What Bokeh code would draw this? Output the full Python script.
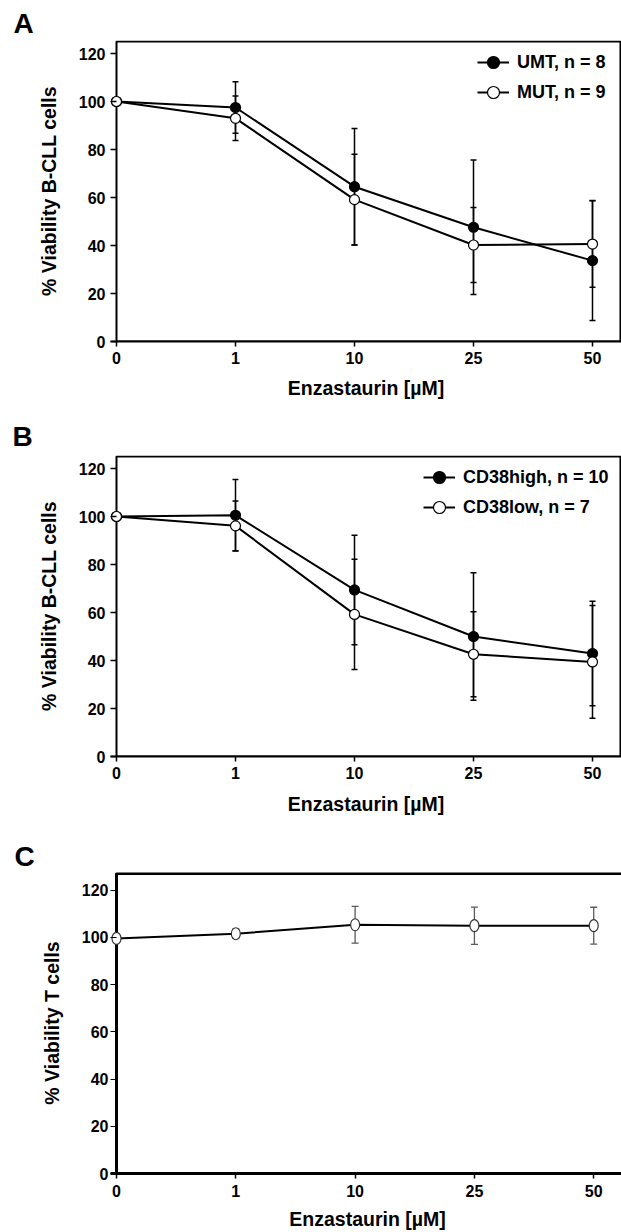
from bokeh.plotting import figure
from bokeh.models import (ColumnDataSource, Range1d, FixedTicker, Whisker, TeeHead,
                          Legend, LegendItem, BoxAnnotation)
from bokeh.layouts import column
from bokeh.embed import file_html
from bokeh.resources import INLINE

# ---------------- data ----------------
conc = ["0", "1", "10", "25", "50"]
y_ticks = [0, 20, 40, 60, 80, 100, 120]

umt_mean = [100, 97.5, 64.5, 47.6, 33.7]
umt_sd = [0, 10.7, 24.3, 28.0, 25.0]
mut_mean = [100, 93.0, 59.1, 40.2, 40.6]
mut_sd = [0, 9.3, 18.9, 15.6, 18.0]

cd38high_mean = [100, 100.5, 69.4, 50.0, 42.9]
cd38high_sd = [0, 14.9, 22.8, 26.6, 21.8]
cd38low_mean = [100, 96.1, 59.2, 42.6, 39.4]
cd38low_sd = [0, 10.4, 23.0, 17.7, 23.5]

tcell_mean = [99.5, 101.5, 105.3, 104.9, 104.9]
tcell_sd = [1.5, 2.0, 7.8, 7.9, 7.8]

x_idx = list(range(len(conc)))
FONT = "Liberation Sans"


def base_fig(letter, letter_offset, letter_standoff, left, top, bottom, frame_w,
             x_start, x_end, box_right, y_end, box_top, line_w, x_st, x_als, y_st):
    p = figure(frame_width=frame_w, frame_height=301,
               min_border_left=left, min_border_right=0,
               min_border_top=top, min_border_bottom=bottom,
               x_range=Range1d(x_start, x_end), y_range=Range1d(0, y_end),
               output_backend="svg", toolbar_location=None, tools="")
    p.grid.visible = False
    p.outline_line_color = None
    p.background_fill_color = "white"
    p.border_fill_color = "white"
    # panel letter
    p.title.text = letter
    p.title.align = "left"
    p.title.offset = letter_offset
    p.title.standoff = letter_standoff
    p.title.vertical_align = "bottom"
    p.title.text_font = FONT
    p.title.text_font_size = "28px"
    p.title.text_font_style = "bold"
    p.title.text_color = "black"
    # frame box starting at the y axis (x = 0)
    p.add_layout(BoxAnnotation(left=0, right=box_right, bottom=0, top=box_top,
                               fill_alpha=0, line_color="black", line_alpha=1.0,
                               line_width=line_w, level="underlay"))
    for ax in (p.xaxis[0], p.yaxis[0]):
        ax.axis_line_color = "black"
        ax.axis_line_width = line_w
        ax.major_tick_line_color = "black"
        ax.major_tick_line_width = 1.5
        ax.minor_tick_in = 0
        ax.minor_tick_out = 0
        ax.major_label_text_font = FONT
        ax.major_label_text_font_style = "bold"
        ax.major_label_text_font_size = "16px"
        ax.major_label_text_color = "black"
        ax.axis_label_text_font = FONT
        ax.axis_label_text_font_style = "bold"
        ax.axis_label_text_font_size = "19.5px"
        ax.axis_label_text_color = "black"
    p.xaxis.major_tick_in = 0
    p.xaxis.major_tick_out = 5
    p.xaxis.ticker = FixedTicker(ticks=x_idx)
    p.xaxis.major_label_overrides = {i: c for i, c in zip(x_idx, conc)}
    p.xaxis.major_label_standoff = x_st
    p.xaxis.axis_label = "Enzastaurin [µM]"
    p.xaxis.axis_label_standoff = x_als
    # y axis sits at the frame edge; its ticks reach in to the line at x = 0
    p.yaxis.axis_line_color = None
    p.yaxis.major_tick_in = 6
    p.yaxis.major_tick_out = 0
    p.yaxis.ticker = FixedTicker(ticks=y_ticks)
    p.yaxis.major_label_standoff = y_st
    p.yaxis.axis_label_standoff = 16
    return p


def add_series(p, mean, sd, fill):
    src = ColumnDataSource(dict(x=x_idx, y=mean,
                                upper=[m + s for m, s in zip(mean, sd)],
                                lower=[m - s for m, s in zip(mean, sd)]))
    w = Whisker(base="x", upper="upper", lower="lower", source=src,
                line_color="black", line_width=1.5, level="underlay",
                upper_head=TeeHead(size=6, line_color="black", line_width=1.5),
                lower_head=TeeHead(size=6, line_color="black", line_width=1.5))
    p.add_layout(w)
    l = p.line("x", "y", source=src, line_color="black", line_width=2)
    s = p.scatter("x", "y", source=src, marker="circle", size=10,
                  fill_color=fill, line_color="black", line_width=1.2)
    return l, s


def add_legend(p, items, label_w):
    leg = Legend(items=[LegendItem(label=lab, renderers=list(r)) for lab, r in items],
                 location="top_right", margin=7, padding=0, spacing=0,
                 glyph_width=32, glyph_height=30, label_height=30, label_standoff=8,
                 label_width=label_w,
                 label_text_font=FONT, label_text_font_size="18px",
                 label_text_font_style="bold", label_text_color="black",
                 background_fill_alpha=0, border_line_alpha=0)
    p.add_layout(leg)


# ---------------- Panel A ----------------
pA = base_fig("A", -97, 3, 110, 40, 71, 511, -0.0504, 4.2437, 4.235,
              125.4167, 125, 2, 5, 10, 5)
pA.yaxis.axis_label = "% Viability B-CLL cells"
a1 = add_series(pA, umt_mean, umt_sd, "black")
a2 = add_series(pA, mut_mean, mut_sd, "white")
add_legend(pA, [("UMT, n = 8", a1), ("MUT, n = 9", a2)], 97)

# ---------------- Panel B ----------------
pB = base_fig("B", -98, 8, 110, 43, 80, 511, -0.0504, 4.2437, 4.235,
              125.4167, 125, 2, 5, 11, 5)
pB.yaxis.axis_label = "% Viability B-CLL cells"
b1 = add_series(pB, cd38high_mean, cd38high_sd, "black")
b2 = add_series(pB, cd38low_mean, cd38low_sd, "white")
add_legend(pB, [("CD38high, n = 10", b1), ("CD38low, n = 7", b2)], 151)

# ---------------- Panel C ----------------
pC = base_fig("C", -96, 1, 107, 36, 58, 514, -0.0503, 4.258, 4.25,
              127.42, 127, 3, 6, 8, 2)
pC.yaxis.axis_label = "% Viability T cells"
pC.yaxis.major_tick_line_width = 1
srcC = ColumnDataSource(dict(x=x_idx, y=tcell_mean,
                             upper=[m + s for m, s in zip(tcell_mean, tcell_sd)],
                             lower=[m - s for m, s in zip(tcell_mean, tcell_sd)]))
wC = Whisker(base="x", upper="upper", lower="lower", source=srcC,
             line_color="#5a5a5a", line_width=1.3, level="underlay",
             upper_head=TeeHead(size=7, line_color="#5a5a5a", line_width=1.3),
             lower_head=TeeHead(size=7, line_color="#5a5a5a", line_width=1.3))
pC.add_layout(wC)
pC.line("x", "y", source=srcC, line_color="black", line_width=2)
pC.ellipse("x", "y", source=srcC, width=9, height=12,
           width_units="screen", height_units="screen",
           fill_color="white", line_color="#333333", line_width=1.2)

layout = column(pA, pB, pC, spacing=0)
open("out.html", "w").write(file_html(layout, INLINE))
